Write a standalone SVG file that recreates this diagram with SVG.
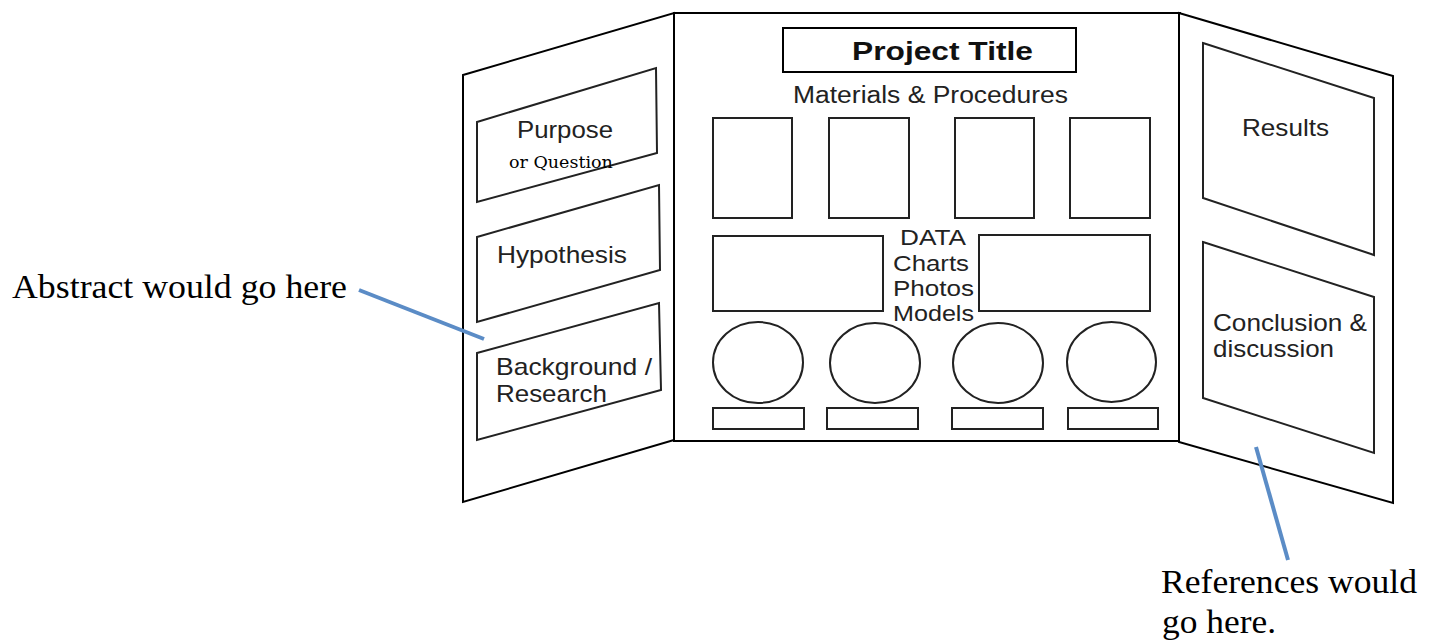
<svg xmlns="http://www.w3.org/2000/svg" width="1434" height="641" viewBox="0 0 1434 641">
<style>
.panel{fill:#fff;stroke:#000;stroke-width:2}
.box{fill:none;stroke:#222;stroke-width:2}
.sans{font-family:"Liberation Sans",Arial,sans-serif;fill:#222}
.serif{font-family:"Liberation Serif","Times New Roman",serif;fill:#000;font-size:33px}
.lead{stroke:#5b8cc6;stroke-width:4;stroke-linecap:butt;fill:none}
</style>
<rect x="0" y="0" width="1434" height="641" fill="#fff"/>
<g id="left-panel">
<polygon class="panel" points="463,75 674,13 674,440 463,502"/>
</g>
<g id="center-panel">
<rect class="panel" x="674" y="13" width="506" height="428"/>
</g>
<g id="right-panel">
<polygon class="panel" points="1179,13 1393,76 1393,503 1179,442"/>
</g>
<g id="purpose">
<polygon class="box" points="477,122 656,68 657,153 477,202"/>
<text class="sans" x="517" y="138" font-size="24" textLength="96" lengthAdjust="spacingAndGlyphs">Purpose</text>
<text x="509" y="168" font-family="'DejaVu Serif',serif" font-size="17.5" fill="#000">or Question</text>
</g>
<g id="hypothesis">
<polygon class="box" points="477,237 659,185 660,270 477,322"/>
<text class="sans" x="497" y="263" font-size="24" textLength="130" lengthAdjust="spacingAndGlyphs">Hypothesis</text>
</g>
<g id="background">
<polygon class="box" points="477,353 659,303 661,390 477,440"/>
<text class="sans" x="496" y="375" font-size="24" textLength="156" lengthAdjust="spacingAndGlyphs">Background /</text>
<text class="sans" x="496" y="402" font-size="24" textLength="111" lengthAdjust="spacingAndGlyphs">Research</text>
</g>
<g id="title">
<rect class="box" x="783" y="28" width="293" height="44" style="stroke:#000"/>
<text class="sans" x="852" y="60" font-size="26" font-weight="bold" textLength="181" lengthAdjust="spacingAndGlyphs" style="fill:#111">Project Title</text>
</g>
<g id="materials">
<text class="sans" x="793" y="103" font-size="23" textLength="275" lengthAdjust="spacingAndGlyphs">Materials &amp; Procedures</text>
<rect class="box" x="713" y="118" width="79" height="100"/>
<rect class="box" x="829" y="118" width="80" height="100"/>
<rect class="box" x="955" y="118" width="79" height="100"/>
<rect class="box" x="1070" y="118" width="80" height="100"/>
</g>
<g id="data">
<rect class="box" x="713" y="236" width="170" height="75"/>
<rect class="box" x="979" y="235" width="171" height="76"/>
<text class="sans" x="900" y="245" font-size="22" textLength="66" lengthAdjust="spacingAndGlyphs">DATA</text>
<text class="sans" x="893" y="271" font-size="22" textLength="76" lengthAdjust="spacingAndGlyphs">Charts</text>
<text class="sans" x="893" y="296" font-size="22" textLength="81" lengthAdjust="spacingAndGlyphs">Photos</text>
<text class="sans" x="893" y="321" font-size="22" textLength="81" lengthAdjust="spacingAndGlyphs">Models</text>
</g>
<g id="models">
<ellipse class="box" cx="758" cy="362.5" rx="45" ry="40.5"/>
<ellipse class="box" cx="875" cy="363" rx="45" ry="40"/>
<ellipse class="box" cx="998" cy="363" rx="45" ry="40"/>
<ellipse class="box" cx="1111.5" cy="362" rx="44.5" ry="40"/>
<rect class="box" x="713" y="408" width="91" height="21"/>
<rect class="box" x="827" y="408" width="91" height="21"/>
<rect class="box" x="952" y="408" width="91" height="21"/>
<rect class="box" x="1068" y="408" width="90" height="21"/>
</g>
<g id="results">
<polygon class="box" points="1203,43 1374,98 1374,255 1203,198"/>
<text class="sans" x="1242" y="136" font-size="24" textLength="87" lengthAdjust="spacingAndGlyphs">Results</text>
</g>
<g id="conclusion">
<polygon class="box" points="1203,242 1374,297 1374,453 1203,398"/>
<text class="sans" x="1213" y="331" font-size="24" textLength="154" lengthAdjust="spacingAndGlyphs">Conclusion &amp;</text>
<text class="sans" x="1213" y="357" font-size="24" textLength="121" lengthAdjust="spacingAndGlyphs">discussion</text>
</g>
<g id="abstract-note">
<text class="serif" x="12" y="298" textLength="335" lengthAdjust="spacingAndGlyphs">Abstract would go here</text>
</g>
<g id="references-note">
<text class="serif" x="1161" y="593" textLength="256" lengthAdjust="spacingAndGlyphs">References would</text>
<text class="serif" x="1162" y="633" textLength="114" lengthAdjust="spacingAndGlyphs">go here.</text>
</g>
<g id="connectors">
<line class="lead" x1="359" y1="290" x2="484" y2="339"/>
<line class="lead" x1="1256" y1="447" x2="1288" y2="560"/>
</g>
</svg>
